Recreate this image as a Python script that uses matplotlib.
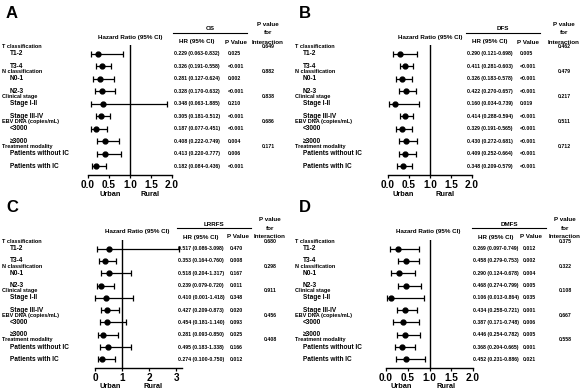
import matplotlib
matplotlib.use("Agg")
import numpy as np
import matplotlib.pyplot as plt
import matplotlib.transforms as mtransforms

plt.rcParams['font.family'] = ['Liberation Sans', 'DejaVu Sans']
plt.rcParams['font.weight'] = 'bold'

W, H = 586, 392

groups = ["T classification", "N classification", "Clinical stage",
          "EBV DNA (copies/mL)", "Treatment modality"]
subgroups = ["T1-2", "T3-4", "N0-1", "N2-3", "Stage I-II", "Stage III-IV",
             "<3000", "\u22653000", "Patients without IC", "Patients with IC"]

# OS
os_hr = [0.229, 0.326, 0.281, 0.328, 0.348, 0.305, 0.187, 0.408, 0.413, 0.182]
os_lo = [0.063, 0.191, 0.127, 0.170, 0.063, 0.181, 0.077, 0.222, 0.220, 0.084]
os_hi = [0.832, 0.558, 0.624, 0.632, 1.885, 0.512, 0.451, 0.749, 0.777, 0.436]
os_p = ["0.025", "<0.001", "0.002", "<0.001", "0.210", "<0.001", "<0.001", "0.004", "0.006", "<0.001"]
os_pint = ["0.649", "0.882", "0.838", "0.686", "0.171"]

# DFS
dfs_hr = [0.290, 0.411, 0.326, 0.422, 0.160, 0.414, 0.329, 0.430, 0.409, 0.348]
dfs_lo = [0.121, 0.281, 0.183, 0.270, 0.034, 0.288, 0.191, 0.272, 0.252, 0.209]
dfs_hi = [0.698, 0.603, 0.578, 0.657, 0.739, 0.594, 0.565, 0.681, 0.664, 0.579]
dfs_p = ["0.005", "<0.001", "<0.001", "<0.001", "0.019", "<0.001", "<0.001", "<0.001", "<0.001", "<0.001"]
dfs_pint = ["0.462", "0.479", "0.217", "0.511", "0.712"]

# LRRFS
lrrfs_hr = [0.517, 0.353, 0.518, 0.239, 0.410, 0.427, 0.454, 0.281, 0.495, 0.274]
lrrfs_lo = [0.086, 0.164, 0.204, 0.079, 0.001, 0.209, 0.181, 0.093, 0.183, 0.100]
lrrfs_hi = [3.098, 0.760, 1.317, 0.720, 1.418, 0.873, 1.140, 0.850, 1.338, 0.750]
lrrfs_p = ["0.470", "0.008", "0.167", "0.011", "0.348", "0.020", "0.093", "0.025", "0.166", "0.012"]
lrrfs_pint = ["0.680", "0.298", "0.911", "0.456", "0.408"]

# DMFS
dmfs_hr = [0.269, 0.458, 0.290, 0.468, 0.106, 0.434, 0.387, 0.446, 0.368, 0.452]
dmfs_lo = [0.097, 0.279, 0.124, 0.274, 0.013, 0.258, 0.171, 0.254, 0.204, 0.231]
dmfs_hi = [0.749, 0.753, 0.678, 0.799, 0.864, 0.721, 0.748, 0.782, 0.665, 0.886]
dmfs_p = ["0.012", "0.002", "0.004", "0.005", "0.035", "0.001", "0.006", "0.005", "0.001", "0.021"]
dmfs_pint = ["0.375", "0.322", "0.108", "0.667", "0.558"]

fig = plt.figure(figsize=(W / 100, H / 100), dpi=100)


def px(x, y):
    return x / W, 1 - y / H


def draw_panel(letter, name, hr, lo, hi, pvals, pint, ox, oy, ax_l, ax_r, ax_t, ax_b,
               xmax, ticks, hr_x, p_x, int_x, urban_x, rural_x):
    hr = np.array(hr)
    lo = np.array(lo)
    hi = np.array(hi)
    rows = np.arange(len(hr))

    ax = fig.add_axes([ax_l / W, 1 - ax_b / H, (ax_r - ax_l) / W, (ax_b - ax_t) / H])
    ax.errorbar(hr, rows, xerr=[hr - lo, hi - hr], fmt='o', color='black', ms=3.5,
                elinewidth=0.9, capsize=2, capthick=0.9, clip_on=False)
    ax.axvline(1, color='black', lw=1)
    ax.set_xlim(0, xmax)
    ax.set_ylim(9.7, -0.7)
    ax.set_yticks([])
    for s in ['left', 'top', 'right']:
        ax.spines[s].set_visible(False)
    ax.spines['bottom'].set_linewidth(1)
    ax.set_xticks(ticks)
    ax.set_xticklabels(ticks if isinstance(ticks[1], int) else [f"{t:.1f}" for t in ticks],
                       fontsize=7.2, fontweight='bold')
    ax.tick_params(axis='x', length=2.5, width=0.9, pad=1.2)
    ax.patch.set_alpha(0)

    tr = mtransforms.blended_transform_factory(fig.transFigure, ax.transData)
    for i, lab in enumerate(subgroups):
        ax.text((ox + 10) / W, i, lab, transform=tr, fontsize=4.7, va='center', ha='left')
        txt = f"{hr[i]:.3f} ({lo[i]:.3f}-{hi[i]:.3f})"
        ax.text(hr_x / W, i, txt, transform=tr, fontsize=3.7, va='center', ha='left')
        ax.text(p_x / W, i, pvals[i], transform=tr, fontsize=3.7, va='center', ha='left')
    for g, lab in enumerate(groups):
        ax.text((ox + 2) / W, 2 * g - 0.58, lab, transform=tr, fontsize=4.0,
                va='center', ha='left')
        ax.text(int_x / W, 2 * g - 0.58, pint[g], transform=tr, fontsize=3.7,
                va='center', ha='center')

    # headers
    fig.text(*px(ox + 6, oy + 13), letter, fontsize=12, fontweight='bold', va='center', ha='left')
    fig.text(*px((ax_l + ax_l + 84) / 2, oy + 37), "Hazard Ratio (95% CI)", fontsize=4.5,
             va='center', ha='center')
    line_l, line_r = hr_x - 1, hr_x + 73
    fig.text(*px((line_l + line_r) / 2, oy + 29), name, fontsize=4.5, va='center', ha='center')
    fig.add_artist(plt.Line2D([line_l / W, line_r / W], [1 - (oy + 33) / H] * 2,
                              color='black', lw=0.8))
    fig.text(*px(hr_x + 23, oy + 42), "HR (95% CI)", fontsize=4.5, va='center', ha='center')
    fig.text(*px(p_x - 3, oy + 42), "P Value", fontsize=4.5, va='center', ha='left')
    fig.text(*px(int_x, oy + 25), "P value", fontsize=4.5, va='center', ha='center')
    fig.text(*px(int_x, oy + 33), "for", fontsize=4.5, va='center', ha='center')
    fig.text(*px(int_x, oy + 42), "Interaction", fontsize=4.5, va='center', ha='center')
    fig.text(*px(urban_x, ax_b + 19), "Urban", fontsize=5.3, va='center', ha='center')
    fig.text(*px(rural_x, ax_b + 19), "Rural", fontsize=5.3, va='center', ha='center')


ticks2 = [0.0, 0.5, 1.0, 1.5, 2.0]
draw_panel("A", "OS", os_hr, os_lo, os_hi, os_p, os_pint, 0, 0,
           88, 172, 45, 175, 2.0, ticks2, 174, 228, 268, 110, 150)
draw_panel("B", "DFS", dfs_hr, dfs_lo, dfs_hi, dfs_p, dfs_pint, 293, 0,
           388, 472, 45, 175, 2.0, ticks2, 467, 520, 564, 403, 445)
draw_panel("C", "LRRFS", lrrfs_hr, lrrfs_lo, lrrfs_hi, lrrfs_p, lrrfs_pint, 0, 195,
           95, 182, 240, 368, 3.22, [0, 1, 2, 3], 178, 230, 270, 110, 153)
draw_panel("D", "DMFS", dmfs_hr, dmfs_lo, dmfs_hi, dmfs_p, dmfs_pint, 293, 195,
           386, 473, 240, 368, 2.0, ticks2, 473, 523, 565, 401, 446)

fig.savefig("out.png", dpi=100)
